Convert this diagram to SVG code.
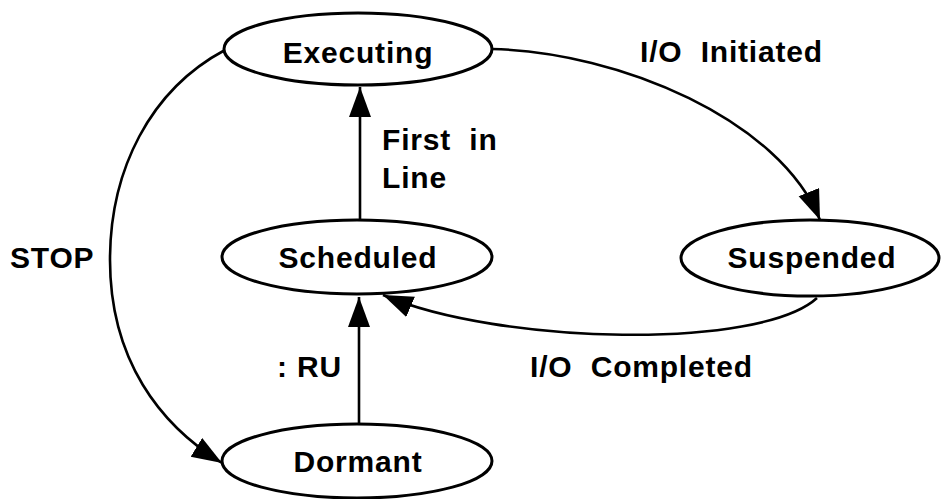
<svg xmlns="http://www.w3.org/2000/svg" width="941" height="499" viewBox="0 0 941 499">
<style>
  .node ellipse { fill: #fff; stroke: #000; stroke-width: 3; }
  text { font-family: "Liberation Sans", Arial, sans-serif; font-weight: bold; font-size: 30px; letter-spacing: 0.8px; fill: #000; white-space: pre; }
  .node text { text-anchor: middle; }
  .edge { fill: none; stroke: #000; stroke-width: 2.6; marker-end: url(#arrow); }
</style>
<defs>
  <marker id="arrow" markerUnits="userSpaceOnUse" markerWidth="32" markerHeight="24" refX="30" refY="11" orient="auto">
    <path d="M0,0 L30,11 L0,22 Z" fill="#000"/>
  </marker>
</defs>
<rect width="941" height="499" fill="#fff"/>
<g id="connectors">
  <path class="edge" d="M360,220 L360,87"/>
  <path class="edge" d="M359,423 L359,297"/>
  <path class="edge" d="M492,49 C620,52 780,120 820,220"/>
  <path class="edge" d="M817,298 C760,350 500,345 383,295"/>
  <path class="edge" d="M225,50 C150,90 110,170 110,260 C110,360 160,425 222,463"/>
</g>
<g id="executing" class="node">
  <ellipse cx="358" cy="49" rx="134" ry="36"/>
  <text x="358" y="63">Executing</text>
</g>
<g id="scheduled" class="node">
  <ellipse cx="357" cy="257" rx="135" ry="37"/>
  <text x="358" y="268">Scheduled</text>
</g>
<g id="suspended" class="node">
  <ellipse cx="810" cy="258" rx="129" ry="38"/>
  <text x="812" y="268">Suspended</text>
</g>
<g id="dormant" class="node">
  <ellipse cx="357" cy="461" rx="135" ry="37"/>
  <text x="358" y="472">Dormant</text>
</g>
<g id="labels">
  <text x="640" y="62">I/O  Initiated</text>
  <text x="382" y="150">First  in</text>
  <text x="382" y="188">Line</text>
  <text x="10" y="268">STOP</text>
  <text x="277" y="377">: RU</text>
  <text x="530" y="377">I/O  Completed</text>
</g>
</svg>
